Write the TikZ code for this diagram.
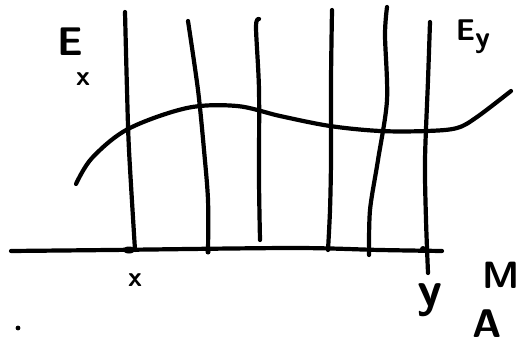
\documentclass[tikz,border=0pt]{standalone}
\begin{document}
\begin{tikzpicture}[x=1pt,y=-1pt,
  stroke/.style={line width=4.2pt,line cap=round,line join=round},
  lbl/.style={inner sep=0pt}]
\useasboundingbox[fill=white] (0,0) rectangle (526,347);
% axis
\draw[stroke] plot[smooth,tension=0.5] coordinates {(11,251) (110,250) (293,248) (380,250) (442,251)};
% vertical lines
\draw[stroke] plot[smooth,tension=0.5] coordinates {(125,12) (127,90) (129,150) (135,250)};
\draw[stroke] plot[smooth,tension=0.5] coordinates {(188,21) (198,90) (204,150) (208,200) (208,252)};
\draw[stroke] plot[smooth,tension=0.5] coordinates {(259,19) (256,27) (259,90) (259,180) (260,240)};
\draw[stroke] plot[smooth,tension=0.5] coordinates {(332,10) (331,80) (331,160) (330,210) (328,250)};
\draw[stroke] plot[smooth,tension=0.5] coordinates {(387,7) (385,35) (387,100) (378,160) (370,210) (369,255)};
\draw[stroke] plot[smooth,tension=0.5] coordinates {(430,22) (428,80) (425,160) (426,220) (428,273)};
% blobs
\fill (129,250) ellipse (6 and 3.5);
\fill (208,252) circle (2.5);
\fill (423,249) circle (3);
% curve
\draw[stroke] plot[smooth,tension=0.55] coordinates {(76,184) (92,158) (128,129) (187,108) (237,106) (280,116) (330,126) (380,131) (427,131) (457,128) (477,117) (511,91)};
% labels
\node[lbl,font=\sffamily\bfseries\fontsize{40}{40}\selectfont] (ex) at (70,42) {E};
\node[lbl,font=\sffamily\bfseries\fontsize{28}{28}\selectfont] (exs) at (83,79) {x};
\node[lbl,font=\sffamily\bfseries\fontsize{30}{30}\selectfont] (ey) at (473,37) {E\raisebox{-7pt}{y}};
\node[lbl,font=\sffamily\bfseries\fontsize{28}{28}\selectfont] (lx) at (135,280) {x};
\node[lbl,font=\sffamily\bfseries\fontsize{50}{50}\selectfont] (ly) at (430,300) {y};
\node[lbl,font=\sffamily\bfseries\fontsize{38}{38}\selectfont] (lm) at (501,275) {M};
\node[lbl,font=\sffamily\bfseries\fontsize{40}{40}\selectfont] (la) at (487,324) {A};
\fill (18,328) circle (2.4);
\end{tikzpicture}
\end{document}
